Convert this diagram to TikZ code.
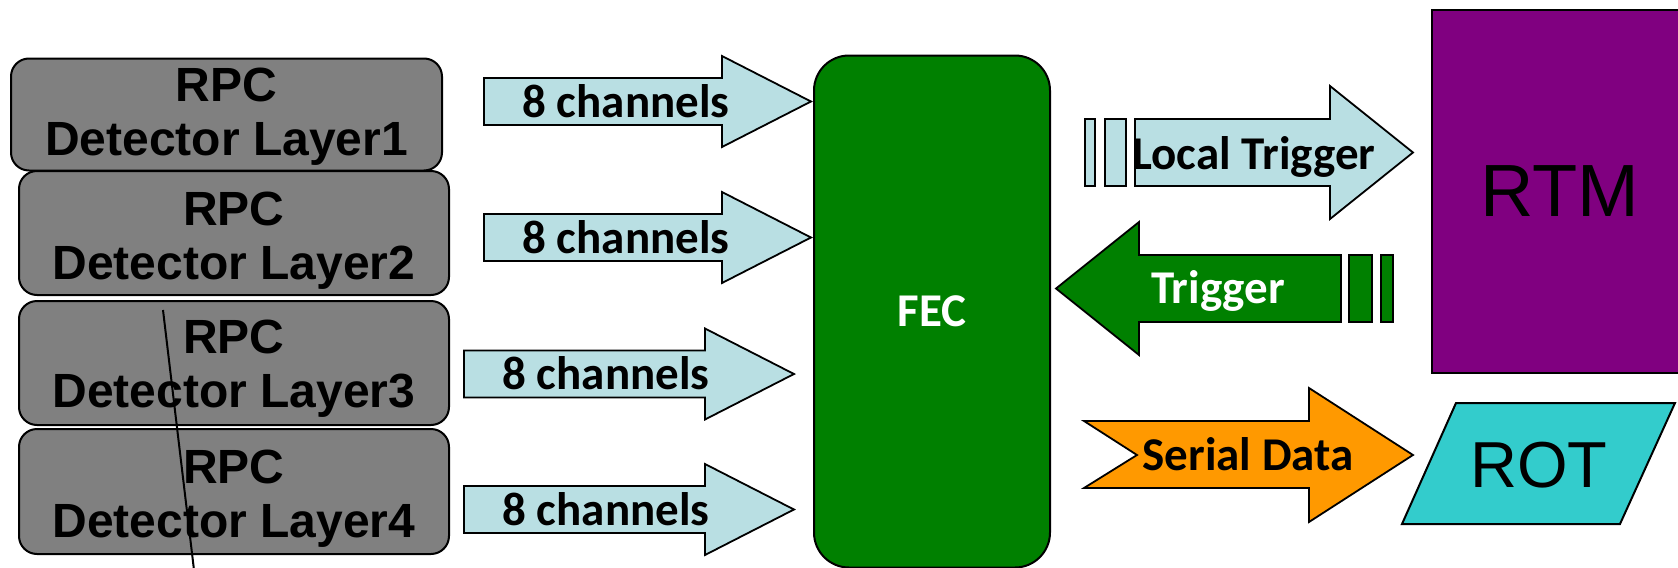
\documentclass[tikz,border=0pt]{standalone}
\usepackage{fontspec}
\setmainfont{Carlito}
\newfontfamily\arialfont{Liberation Sans}

\definecolor{layergray}{HTML}{808080}
\definecolor{chanblue}{HTML}{B9DFE3}
\definecolor{fecgreen}{HTML}{008000}
\definecolor{rtmpurple}{HTML}{800080}
\definecolor{rotcyan}{HTML}{33CCCC}
\definecolor{serorange}{HTML}{FF9900}

\tikzset{
	layer/.style={draw=black, line width=1pt, fill=layergray, rounded corners=9pt, inner sep=0pt},
	layertext/.style={font=\arialfont\bfseries\fontsize{24}{27}\selectfont, align=center, inner sep=0pt},
	blockarrow/.style={draw=black, line width=0.9pt, line join=miter},
	arrowtext/.style={font=\bfseries\fontsize{23.5}{28}\selectfont, inner sep=0pt, anchor=base},
	bigtext/.style={font=\arialfont\fontsize{37}{40}\selectfont, inner sep=0pt}
}

\begin{document}
\begin{tikzpicture}[x=0.5pt,y=-0.5pt]
	\clip (0,0) rectangle (1678,568);
	\fill[white] (0,0) rectangle (1678,568);

	%RPC layers
	\foreach \i/\cx/\cy/\w/\h/\dy in {1/226.5/114.5/431/112/-1, 2/234/233/430/124/-4, 3/234/363/430/124/-3, 4/234/491.5/430/125/-3.5}{
		\node[layer, minimum width=\w*0.5pt, minimum height=\h*0.5pt] (layer\i) at (\cx,\cy) {};
		\node[layertext] (layer\i text) at ([yshift=\dy pt]layer\i.center) {RPC\\Detector Layer\i};
	}

	%8 channel inputs
	\foreach \n/\l/\t/\y in {1/484/811/101.5, 2/484/811/237.5, 3/464/794/374, 4/464/794/509.5}{
		\draw[blockarrow, fill=chanblue] (\l,\y-23.5) -- (\t-89,\y-23.5) -- (\t-89,\y-45.5) -- (\t,\y) -- (\t-89,\y+45.5) -- (\t-89,\y+23.5) -- (\l,\y+23.5) -- cycle;
		\node[arrowtext] (chan\n) at (\l+142,\y+15.5) {8 channels};
	}

	%FEC board
	\node[draw=black, line width=1pt, fill=fecgreen, rounded corners=17.5pt, minimum width=118pt, minimum height=256pt, inner sep=0pt,
		text=white, font=\bfseries\fontsize{23.5}{28}\selectfont] (fec) at (932,311.5) {FEC};

	%RTM
	\node[draw=black, line width=1pt, fill=rtmpurple, minimum width=128pt, minimum height=181.5pt, inner sep=0pt, bigtext] (rtm) at (1560,191.5) {RTM};

	%local trigger, striped
	\draw[blockarrow, fill=chanblue] (1135,119) -- (1330,119) -- (1330,86) -- (1413,152.5) -- (1330,219) -- (1330,186) -- (1135,186) -- cycle;
	\draw[blockarrow, fill=chanblue] (1085,119) rectangle (1095,186);
	\draw[blockarrow, fill=chanblue] (1105,119) rectangle (1126,186);
	\node[arrowtext] (localtrig) at (1254,169) {Local Trigger};

	%trigger back to FEC, striped
	\draw[blockarrow, fill=fecgreen] (1056,288.5) -- (1139,222) -- (1139,255) -- (1341,255) -- (1341,322) -- (1139,322) -- (1139,355) -- cycle;
	\draw[blockarrow, fill=fecgreen] (1349,255) rectangle (1372,322);
	\draw[blockarrow, fill=fecgreen] (1381,255) rectangle (1393,322);
	\node[arrowtext, text=white] (trig) at (1218,303) {Trigger};

	%serial data, notched
	\draw[blockarrow, fill=serorange] (1084,421) -- (1309,421) -- (1309,388) -- (1413,455) -- (1309,522) -- (1309,488) -- (1084,488) -- (1137,455) -- cycle;
	\node[arrowtext] (serial) at (1248,470) {Serial Data};

	%ROT
	\draw[line width=1pt, fill=rotcyan] (1456,403) -- (1675,403) -- (1620,524) -- (1402,524) -- cycle;
	\node[bigtext, font=\arialfont\fontsize{32.5}{36}\selectfont] (rot) at (1539,465.5) {ROT};

	%stray line across layers 3 and 4
	\coordinate (cutA) at (163,310);
	\coordinate (cutB) at (194,570);
	\draw[line width=1pt] (cutA) -- (cutB);
\end{tikzpicture}
\end{document}
